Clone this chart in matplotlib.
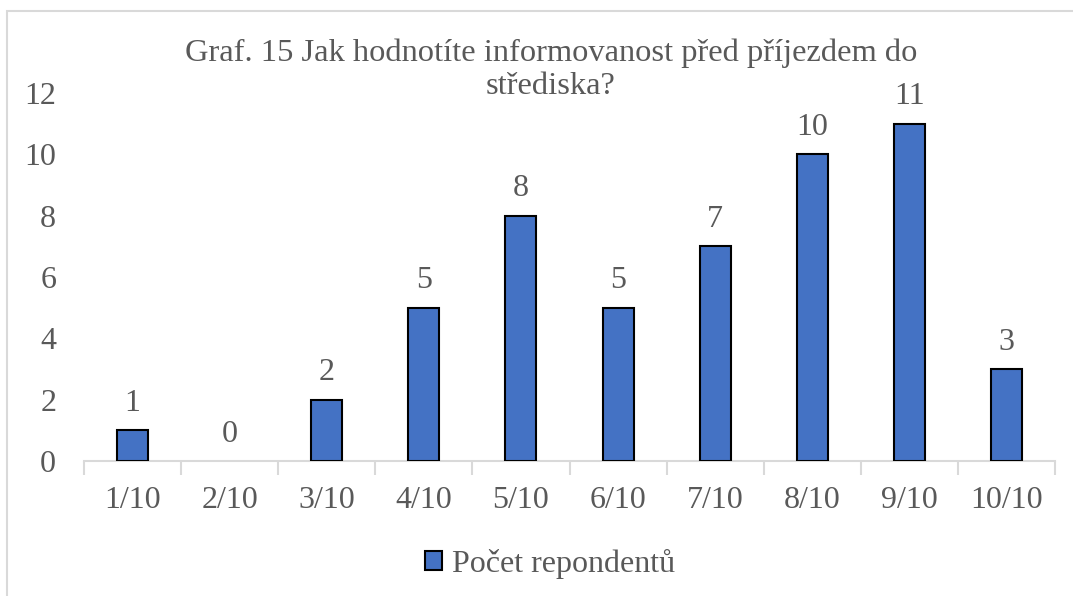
import matplotlib
matplotlib.use("Agg")
import matplotlib.pyplot as plt
from matplotlib.patches import Rectangle, Patch

categories = ["1/10", "2/10", "3/10", "4/10", "5/10", "6/10", "7/10", "8/10", "9/10", "10/10"]
counts = [1, 0, 2, 5, 8, 5, 7, 10, 11, 3]
series_name = "Počet repondentů"
title_lines = ["Graf. 15 Jak hodnotíte informovanost před příjezdem do", "střediska?"]
y_ticks = [0, 2, 4, 6, 8, 10, 12]

TEXT = "#595959"
BAR = "#4472C4"
AXIS = "#D9D9D9"
FONT = "Liberation Serif"
FS = 23

W, H = 1073, 596
fig = plt.figure(figsize=(W / 100, H / 100), dpi=100)
fig.patch.set_facecolor("white")

# outer chart frame
fig.add_artist(Rectangle((7 / W, 0 - 0.01), 1.05, 1 - 11 / H + 0.01, transform=fig.transFigure,
                         fill=False, edgecolor="#D9D9D9", linewidth=1.5))

ax = fig.add_axes([84 / W, 1 - 461 / H, (1055 - 84) / W, (461 - 93) / H])
x = list(range(len(categories)))
bars = ax.bar(x, counts, width=0.32, color=BAR, edgecolor="black", linewidth=1.5, zorder=3)
for b, v in zip(bars, counts):
    if v == 0:
        b.set_edgecolor("none")

ax.set_xlim(-0.5, len(categories) - 0.5)
ax.set_ylim(0, 12)
ax.set_yticks(y_ticks)
ax.set_yticklabels([str(v) for v in y_ticks], fontsize=FS, color=TEXT, family=FONT)
ax.tick_params(axis="y", length=0, pad=20)

ax.set_xticks(x)
ax.set_xticklabels(categories, fontsize=FS, color=TEXT, family=FONT)
ax.tick_params(axis="x", length=0, pad=18)
ax.set_xticks([i - 0.5 for i in range(len(categories) + 1)], minor=True)
ax.tick_params(axis="x", which="minor", length=10, width=1.5, color=AXIS)

for side in ["left", "right", "top"]:
    ax.spines[side].set_visible(False)
ax.spines["bottom"].set_color(AXIS)
ax.spines["bottom"].set_linewidth(1.5)

for xi, v in zip(x, counts):
    ax.annotate(str(v), (xi, v), xytext=(0, 9), textcoords="offset points",
                ha="center", va="bottom", fontsize=FS, color=TEXT, family=FONT,
                annotation_clip=False)

fig.text(551 / W, 1 - 53 / H, title_lines[0], ha="center", va="center",
         fontsize=23.4, color=TEXT, family=FONT)
fig.text(551 / W, 1 - 87 / H, title_lines[1], ha="center", va="center",
         fontsize=23.4, color=TEXT, family=FONT)

handle = Patch(facecolor=BAR, edgecolor="black", linewidth=1.5)
fig.legend([handle], [series_name], loc="center", bbox_to_anchor=(550 / W, 1 - 564 / H),
           frameon=False, prop={"family": FONT, "size": FS}, labelcolor=TEXT,
           handlelength=0.55, handleheight=0.55, handletextpad=0.3)

fig.savefig("out.png", dpi=100, facecolor="white")
